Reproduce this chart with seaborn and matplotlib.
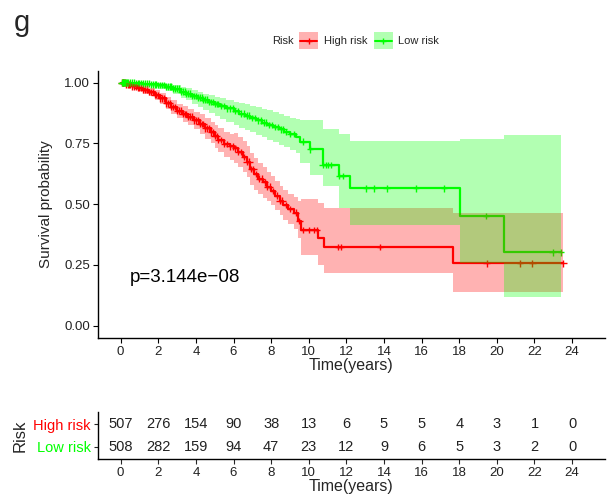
import numpy as np
import pandas as pd
import matplotlib
matplotlib.use("Agg")
import matplotlib.pyplot as plt
from matplotlib.patches import Rectangle
from matplotlib.lines import Line2D
import seaborn as sns

# ---- Kaplan-Meier step data (time of step, survival, 95% CI) ----
high_time = [0, 0.3, 0.6, 0.9, 1.2, 1.5, 1.8, 2.1, 2.4, 2.7, 3.0, 3.3, 3.6, 3.9, 4.2,
             4.5, 4.8, 5.0, 5.2, 5.5, 5.8, 6.0, 6.25, 6.5, 6.7, 6.9, 7.1, 7.3, 7.55,
             7.8, 8.0, 8.2, 8.45, 8.65, 8.9, 9.2, 9.45, 9.6, 10.5, 10.81, 17.66]
high_surv = [1.0, 0.993, 0.985, 0.978, 0.97, 0.962, 0.95, 0.935, 0.915, 0.9, 0.885,
             0.872, 0.86, 0.845, 0.83, 0.812, 0.795, 0.78, 0.765, 0.748, 0.738, 0.73,
             0.715, 0.695, 0.675, 0.645, 0.625, 0.605, 0.59, 0.572, 0.555, 0.535,
             0.515, 0.497, 0.48, 0.465, 0.43, 0.394, 0.36, 0.323, 0.257]
high_lower = [1.0, 0.985, 0.975, 0.965, 0.955, 0.944, 0.93, 0.912, 0.89, 0.872, 0.855,
              0.84, 0.826, 0.809, 0.79, 0.77, 0.75, 0.733, 0.716, 0.696, 0.683, 0.668,
              0.652, 0.631, 0.61, 0.58, 0.56, 0.541, 0.527, 0.514, 0.497, 0.477,
              0.456, 0.437, 0.419, 0.4, 0.363, 0.291, 0.25, 0.216, 0.14]
high_upper = [1.0, 1.0, 0.995, 0.99, 0.985, 0.979, 0.97, 0.957, 0.94, 0.927, 0.914,
              0.903, 0.893, 0.88, 0.869, 0.853, 0.839, 0.826, 0.813, 0.798, 0.79,
              0.792, 0.778, 0.759, 0.74, 0.71, 0.69, 0.67, 0.653, 0.631, 0.614, 0.594,
              0.575, 0.558, 0.542, 0.53, 0.515, 0.522, 0.504, 0.483, 0.463]
high_end = 23.54
high_censor = [0.05, 0.1, 0.15, 0.2, 0.25, 0.3, 0.38, 0.45, 0.52, 0.6, 0.7, 0.8, 0.9,
               1.0, 1.1, 1.2, 1.3, 1.4, 1.5, 1.6, 1.7, 1.8, 1.9, 2.0, 2.1, 2.2, 2.3,
               2.4, 2.5, 2.6, 2.7, 2.8, 2.9, 3.0, 3.1, 3.2, 3.3, 3.4, 3.5, 3.6, 3.7,
               3.8, 3.9, 4.0, 4.1, 4.2, 4.3, 4.4, 4.5, 4.6, 4.7, 4.8, 4.9, 5.0, 5.1,
               5.2, 5.35, 5.5, 5.65, 5.8, 5.95, 6.1, 6.25, 6.4, 6.55, 6.7, 6.85, 6.95,
               7.05, 7.2, 7.35, 7.5, 7.65, 7.8, 7.95, 8.1, 8.3, 8.45, 8.6, 8.8, 9.0,
               9.3, 9.5, 9.7, 10.0, 10.3, 10.45, 11.57, 11.69, 13.78, 19.46, 21.24,
               21.89, 23.54]

low_time = [0, 0.8, 1.2, 1.6, 2.0, 2.4, 2.8, 3.2, 3.5, 3.8, 4.1, 4.4, 4.7, 5.0, 5.3,
            5.6, 6.0, 6.3, 6.6, 6.9, 7.2, 7.5, 7.8, 8.1, 8.4, 8.7, 9.0, 9.3, 9.54,
            10.07, 10.74, 11.63, 12.2, 18.05, 20.39]
low_surv = [1.0, 0.998, 0.996, 0.993, 0.99, 0.984, 0.975, 0.963, 0.955, 0.946, 0.938,
            0.93, 0.921, 0.912, 0.903, 0.894, 0.883, 0.873, 0.864, 0.855, 0.845,
            0.836, 0.826, 0.817, 0.808, 0.798, 0.788, 0.778, 0.757, 0.726, 0.661,
            0.616, 0.565, 0.451, 0.302]
low_lower = [1.0, 0.993, 0.989, 0.984, 0.975, 0.966, 0.953, 0.938, 0.927, 0.914, 0.9,
             0.888, 0.875, 0.862, 0.851, 0.84, 0.826, 0.815, 0.805, 0.795, 0.785,
             0.775, 0.764, 0.754, 0.745, 0.734, 0.722, 0.71, 0.668, 0.62, 0.575,
             0.483, 0.414, 0.257, 0.117]
low_upper = [1.0, 1.0, 1.0, 1.0, 0.998, 0.995, 0.99, 0.983, 0.977, 0.97, 0.962,
             0.955, 0.948, 0.942, 0.936, 0.929, 0.922, 0.917, 0.912, 0.905, 0.898,
             0.893, 0.888, 0.879, 0.872, 0.864, 0.856, 0.85, 0.847, 0.845, 0.808,
             0.788, 0.76, 0.767, 0.785]
low_end = 23.4
low_censor = [0.05, 0.1, 0.15, 0.2, 0.25, 0.3, 0.35, 0.4, 0.5, 0.6, 0.7, 0.8, 0.9, 1.0,
              1.1, 1.2, 1.3, 1.4, 1.5, 1.6, 1.7, 1.8, 1.9, 2.0, 2.1, 2.2, 2.3, 2.4,
              2.5, 2.6, 2.7, 2.8, 2.9, 3.0, 3.1, 3.2, 3.3, 3.4, 3.5, 3.6, 3.7, 3.8,
              3.9, 4.0, 4.1, 4.2, 4.3, 4.4, 4.5, 4.6, 4.7, 4.8, 4.9, 5.0, 5.1, 5.2,
              5.35, 5.5, 5.65, 5.8, 5.95, 6.1, 6.25, 6.4, 6.55, 6.7, 6.85, 7.0, 7.15,
              7.3, 7.45, 7.6, 7.75, 7.9, 8.05, 8.2, 8.35, 8.5, 8.65, 8.8, 9.0, 9.2,
              9.7, 10.07, 10.74, 10.9, 11.05, 11.2, 11.63, 11.8, 13.07, 13.46, 14.14,
              15.7, 17.19, 19.43, 22.96, 23.4]

# ---- number at risk table ----
risk_times = [0, 2, 4, 6, 8, 10, 12, 14, 16, 18, 20, 22, 24]
high_at_risk = [507, 276, 154, 90, 38, 13, 6, 5, 5, 4, 3, 1, 0]
low_at_risk = [508, 282, 159, 94, 47, 23, 12, 9, 6, 5, 3, 2, 0]

groups = ["High risk", "Low risk"]
colors = {"High risk": "#FF0000", "Low risk": "#00FF00"}
p_label = "p=3.144e\u221208"

sns.set_theme(style="ticks")
plt.rcParams["font.family"] = ["Liberation Sans", "DejaVu Sans"]

W, H = 609, 495
fig = plt.figure(figsize=(W / 100, H / 100), dpi=100)


def fx(px):
    return px / W


def fy(py):
    return 1 - py / H


ax = fig.add_axes([fx(97.7), fy(337.9), fx(605) - fx(97.7), fy(70.5) - fy(337.9)])
ax_r = fig.add_axes([fx(97.7), fy(459), fx(605) - fx(97.7), fy(411.7) - fy(459)])

curves = {
    "High risk": (high_time, high_surv, high_lower, high_upper, high_end, high_censor),
    "Low risk": (low_time, low_surv, low_lower, low_upper, low_end, low_censor),
}

rows = []
cens_rows = []
for g in groups:
    t, s, lo, up, end, cen = curves[g]
    for ti, si in zip(list(t) + [end], list(s) + [s[-1]]):
        rows.append({"time": ti, "surv": si, "Risk": g})
    tt = np.asarray(t)
    ss = np.asarray(s)
    for c in cen:
        idx = np.searchsorted(tt, c, side="right") - 1
        cens_rows.append({"time": c, "surv": ss[idx], "Risk": g})
df = pd.DataFrame(rows)
df_cens = pd.DataFrame(cens_rows)

sns.lineplot(data=df, x="time", y="surv", hue="Risk", palette=colors,
             estimator=None, sort=False, drawstyle="steps-post", linewidth=1.6,
             legend=False, ax=ax, zorder=2)
sns.scatterplot(data=df_cens, x="time", y="surv", hue="Risk", palette=colors,
                marker="+", s=22, linewidth=1.0, legend=False, ax=ax, zorder=2)

for g in groups:
    t, s, lo, up, end, cen = curves[g]
    tt = list(t) + [end]
    ax.fill_between(tt, list(lo) + [lo[-1]], list(up) + [up[-1]], step="post",
                    color=colors[g], alpha=0.3, linewidth=0, zorder=3)

ax.text(0.5, 0.2, p_label, fontsize=13.5, ha="left", va="center", color="black")

ax.set_xlim(-1.22, 25.75)
ax.set_ylim(-0.05, 1.05)
ax.set_xticks(risk_times)
ax.set_yticks([0, 0.25, 0.5, 0.75, 1.0])
ax.set_yticklabels(["0.00", "0.25", "0.50", "0.75", "1.00"])
ax.set_xlabel("Time(years)", fontsize=11.5, labelpad=0)
ax.set_ylabel("Survival probability", fontsize=11, labelpad=8)
sns.despine(ax=ax)
ax.tick_params(axis="both", labelsize=9.5, length=3.5, width=0.8, colors="black",
               labelcolor="#222222", pad=2)
for sp in ["left", "bottom"]:
    ax.spines[sp].set_linewidth(1.0)
    ax.spines[sp].set_color("black")

# ---- risk table ----
for i, t in enumerate(risk_times):
    ax_r.text(t, 2, str(high_at_risk[i]), ha="center", va="center", fontsize=10.5,
              color="#222222")
    ax_r.text(t, 1, str(low_at_risk[i]), ha="center", va="center", fontsize=10.5,
              color="#222222")
ax_r.set_xlim(-1.22, 25.75)
ax_r.set_ylim(0.44, 2.56)
ax_r.set_xticks(risk_times)
ax_r.set_yticks([2, 1])
ax_r.set_yticklabels(groups)
for lbl, g in zip(ax_r.get_yticklabels(), groups):
    lbl.set_color(colors[g])
ax_r.tick_params(axis="y", labelsize=10.5, length=3, width=0.8, pad=2)
ax_r.tick_params(axis="x", labelsize=9.5, length=3.5, width=0.8, labelcolor="#222222",
                 pad=2)
ax_r.set_xlabel("Time(years)", fontsize=11.5, labelpad=0)
ax_r.set_ylabel("Risk", fontsize=12, labelpad=4)
sns.despine(ax=ax_r)
for sp in ["left", "bottom"]:
    ax_r.spines[sp].set_linewidth(1.0)
    ax_r.spines[sp].set_color("black")

# ---- legend across the top ----
fig.text(fx(272), fy(40.5), "Risk", fontsize=8, ha="left", va="center")
for g, x0, xt in [("High risk", 299, 324), ("Low risk", 374, 398)]:
    fig.patches.append(Rectangle((fx(x0), fy(49.3)), fx(19), fy(31.7) - fy(49.3),
                                 transform=fig.transFigure, facecolor=colors[g],
                                 alpha=0.3, edgecolor="none"))
    fig.lines.append(Line2D([fx(x0 + 1), fx(x0 + 18)], [fy(40.5), fy(40.5)],
                            transform=fig.transFigure, color=colors[g], lw=1.5))
    fig.lines.append(Line2D([fx(x0 + 9.5)], [fy(40.5)], transform=fig.transFigure,
                            color=colors[g], marker="+", markersize=5, mew=1.0))
    fig.text(fx(xt), fy(40.5), g, fontsize=8, ha="left", va="center")

# panel letter
fig.text(fx(14), fy(31), "g", fontsize=21, ha="left", va="baseline")

fig.savefig("out.png", dpi=100)
